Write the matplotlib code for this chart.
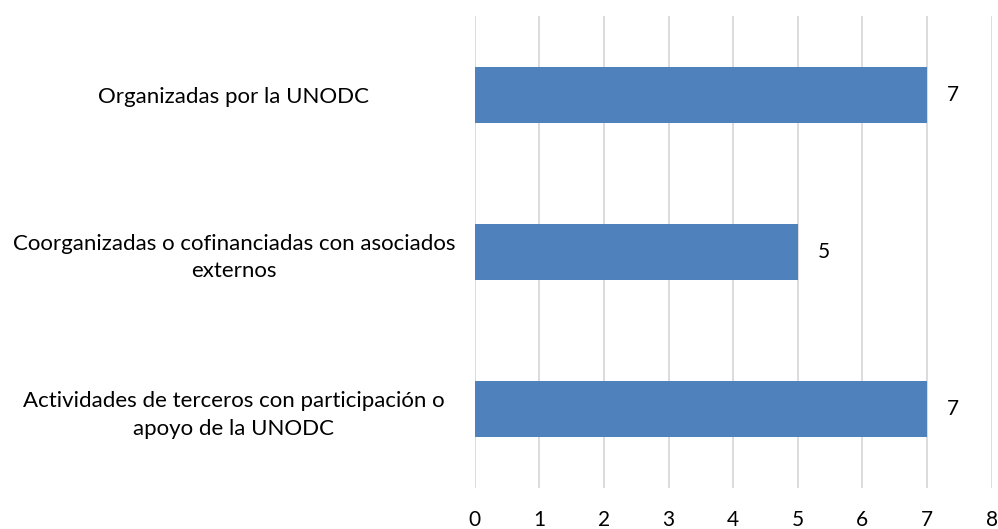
import matplotlib
matplotlib.use("Agg")
import matplotlib.pyplot as plt

categories = [
    "Organizadas por la UNODC",
    "Coorganizadas o cofinanciadas con asociados\nexternos",
    "Actividades de terceros con participación o\napoyo de la UNODC",
]
values = [7, 5, 7]
xticks = [0, 1, 2, 3, 4, 5, 6, 7, 8]

plt.rcParams['font.family'] = ['Lato', 'DejaVu Sans']

fig = plt.figure(figsize=(9.98, 5.29), dpi=100)
ax = fig.add_axes([0.4757, 0.0775, 0.5179, 0.8923])

ypos = list(range(len(categories)))
ax.barh(ypos, values, height=0.355, color='#4F81BD', zorder=3)

for y, v in zip(ypos, values):
    ax.annotate(str(v), (v, y), xytext=(20, 0), textcoords='offset pixels',
                ha='left', va='center', fontsize=15, color='#000000')

ax.set_xlim(0, 8)
ax.set_ylim(2.5, -0.5)
ax.set_xticks(xticks)
ax.set_yticks(ypos)
ax.set_yticklabels(categories, fontsize=16, ha='center', multialignment='center',
                   linespacing=1.45)
ax.tick_params(axis='y', length=0, pad=173.5)
ax.tick_params(axis='x', length=0, pad=16, labelsize=15)

ax.grid(axis='x', color='#D9D9D9', linewidth=1.3, zorder=0)
for s in ax.spines.values():
    s.set_visible(False)

fig.savefig("out.png", dpi=100)
